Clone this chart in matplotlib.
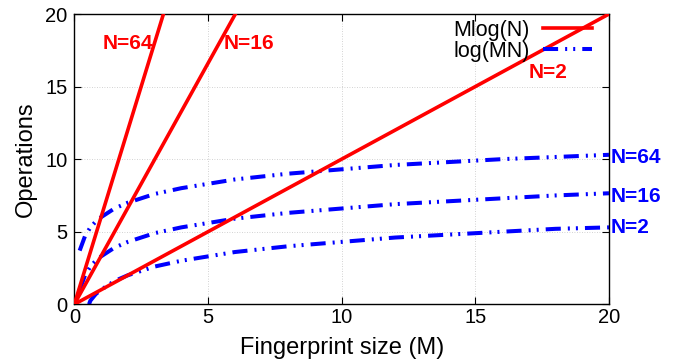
import matplotlib
matplotlib.use("Agg")
import matplotlib.pyplot as plt

plt.rcParams['font.family'] = ['Liberation Sans', 'DejaVu Sans']

#### DATA
# red lines M*log(N), two points each (clipped by the axis)
red_m = [0, 20]
red_n2 = [0, 20]
red_n16 = [0, 66.4]
red_n64 = [0, 120]

# blue curves log(MN)
m_hi = [0.2, 0.4, 0.6, 0.8, 1, 1.5, 2, 3, 4, 5, 6, 8, 10, 12, 14, 16, 18, 20]
blue_n64 = [3.7, 4.7, 5.3, 5.7, 6.0, 6.6, 7.0, 7.6, 8.0, 8.3, 8.6, 9.0, 9.3, 9.6, 9.8, 10.0, 10.15, 10.3]
blue_n16 = [1.0, 2.0, 2.6, 3.0, 3.3, 3.9, 4.3, 4.9, 5.3, 5.6, 5.9, 6.3, 6.6, 6.9, 7.1, 7.3, 7.5, 7.65]
m_lo = [0.55, 0.6, 0.8, 1, 1.5, 2, 3, 4, 5, 6, 8, 10, 12, 14, 16, 18, 20]
blue_n2 = [0, 0.25, 0.7, 1.0, 1.6, 2.0, 2.6, 3.0, 3.3, 3.6, 4.0, 4.3, 4.6, 4.8, 5.0, 5.2, 5.3]

red_labels = ["N=64", "N=16", "N=2"]
red_label_pos = [(1.05, 18.0), (5.6, 18.0), (17.0, 16.0)]
blue_labels = ["N=64", "N=16", "N=2"]
blue_label_y = [10.1, 7.45, 5.3]

#### PLOT
fig = plt.figure(figsize=(6.85, 3.64), dpi=100)
ax = fig.add_axes([0.1085, 0.164, 0.7805, 0.7975])

red = '#ff0000'
blue = '#0000ff'
dash = (0, (3.75, 1.75, 0.5, 1.5, 0.5, 1.75))

ax.plot(red_m, red_n2, color=red, lw=2.6, label='Mlog(N)', zorder=3)
ax.plot(red_m, red_n16, color=red, lw=2.6, zorder=3)
ax.plot(red_m, red_n64, color=red, lw=2.6, zorder=3)

ax.plot(m_hi, blue_n64, color=blue, lw=2.9, ls=dash, label='log(MN)', zorder=2)
ax.plot(m_hi, blue_n16, color=blue, lw=2.9, ls=dash, zorder=2)
ax.plot(m_lo, blue_n2, color=blue, lw=2.9, ls=dash, zorder=2)

for txt, (x, y) in zip(red_labels, red_label_pos):
    ax.text(x, y, txt, color=red, fontsize=15, fontweight='bold', va='center', ha='left')
for txt, y in zip(blue_labels, blue_label_y):
    ax.text(20.05, y, txt, color=blue, fontsize=15, fontweight='bold', va='center', ha='left',
            clip_on=False)

ax.set_xlim(0, 20)
ax.set_ylim(0, 20)
ax.set_xticks([0, 5, 10, 15, 20])
ax.set_yticks([0, 5, 10, 15, 20])
ax.tick_params(direction='in', top=True, right=True, labelsize=14.5, length=5, width=0.8)
ax.tick_params(axis='x', pad=3)
ax.tick_params(axis='y', pad=5)
ax.grid(True, color='#c4c4c4', ls=(0, (1, 2)), lw=0.6)
ax.set_axisbelow(True)
for s in ax.spines.values():
    s.set_linewidth(1.0)

ax.set_xlabel('Fingerprint size (M)', fontsize=17, labelpad=7)
ax.set_ylabel('Operations', fontsize=17, labelpad=6)

leg = ax.legend(loc='upper right', frameon=False, markerfirst=False, fontsize=15.5,
                handlelength=2.3, handletextpad=0.6, labelspacing=0.0,
                borderaxespad=0.2, bbox_to_anchor=(0.993, 1.025))

fig.savefig('out.png', dpi=100)
